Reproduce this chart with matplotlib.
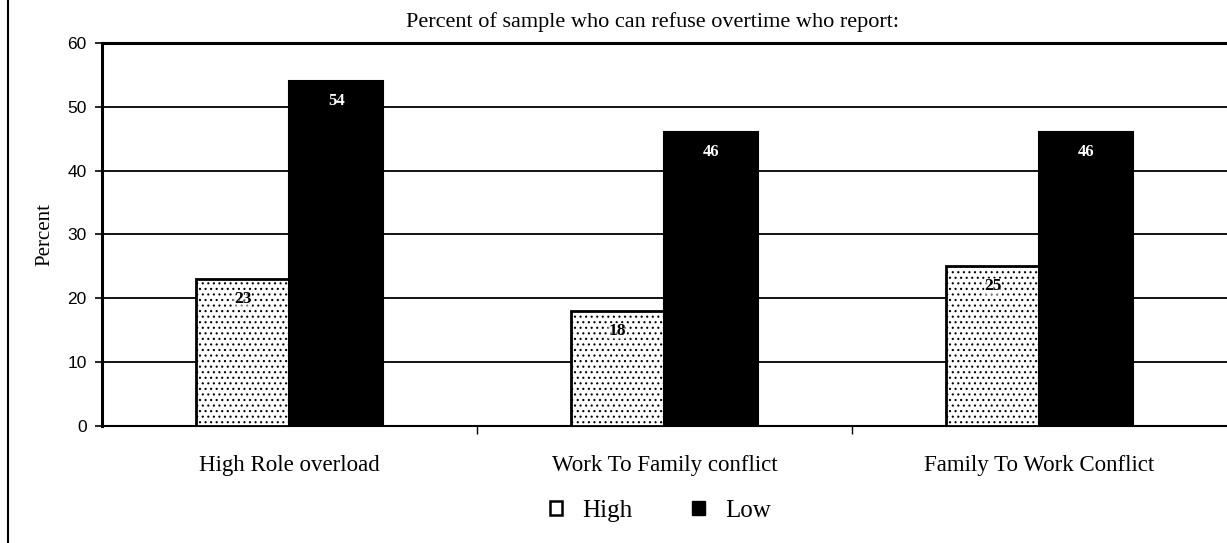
import numpy as np
import matplotlib.pyplot as plt
from matplotlib.patches import Patch
from matplotlib.lines import Line2D

# --- données ---
categories = ['High Role overload', 'Work To Family conflict', 'Family To Work Conflict']
high_vals = [23, 18, 25]
low_vals = [54, 46, 46]
series_names = ['High', 'Low']
title = 'Percent of sample who can refuse overtime who report:'

plt.rcParams['hatch.linewidth'] = 0.8
serif = 'Liberation Serif'
sans = 'Liberation Sans'

fig = plt.figure(figsize=(12.27, 5.43), dpi=100)
ax = fig.add_axes([0.0831, 0.2155, 0.9169, 0.7053])

x = np.arange(len(categories))
w = 0.25

bars_h = ax.bar(x - w / 2, high_vals, w, facecolor='white', edgecolor='black',
                linewidth=2, hatch='...', zorder=3)
bars_l = ax.bar(x + w / 2, low_vals, w, facecolor='black', edgecolor='black',
                linewidth=1.5, zorder=3)

for b, v in zip(bars_h, high_vals):
    ax.text(b.get_x() + b.get_width() / 2, v - 3.1, str(v), ha='center', va='center',
            family=serif, fontweight='bold', fontsize=12.5, color='black', zorder=4,
            bbox=dict(facecolor='white', edgecolor='none', pad=0.3, alpha=0.5))
for b, v in zip(bars_l, low_vals):
    ax.text(b.get_x() + b.get_width() / 2, v - 3.1, str(v), ha='center', va='center',
            family=serif, fontweight='bold', fontsize=12, color='white', zorder=4)

ax.set_xlim(-0.5, 2.5)
ax.set_ylim(0, 60)
ax.set_yticks(range(0, 61, 10))
ax.yaxis.grid(True, color='black', linewidth=1.3, zorder=0)
ax.set_axisbelow(True)

ax.set_xticks(x)
ax.set_xticklabels(categories, family=serif, fontsize=16.5)
ax.set_xticks([0.5, 1.5], minor=True)
ax.tick_params(axis='x', which='major', length=0, pad=21)
ax.tick_params(axis='x', which='minor', length=6, width=1, direction='out')
ax.tick_params(axis='y', length=5, width=1.2, direction='out', labelsize=12.5, pad=6)
for lab in ax.get_yticklabels():
    lab.set_family(sans)

ax.set_ylabel('Percent', family=serif, fontsize=15, labelpad=9)

for side in ['left', 'top']:
    ax.spines[side].set_linewidth(2.2)
ax.spines['bottom'].set_linewidth(1.5)
ax.spines['right'].set_visible(False)

fig.text(0.532, 0.96, title, ha='center', va='center', family=serif, fontsize=16)

handles = [Patch(facecolor='white', edgecolor='black', linewidth=1.8),
           Patch(facecolor='black', edgecolor='black')]
fig.legend(handles, series_names, loc='center', bbox_to_anchor=(0.538, 0.059),
           ncol=2, frameon=False, prop={'family': serif, 'size': 18},
           handlelength=0.5, handleheight=0.5, columnspacing=2.4, handletextpad=0.8)

# bord gauche de la page scannée
fig.add_artist(Line2D([0.0067, 0.0067], [0, 1], color='black', linewidth=1.5,
                      transform=fig.transFigure))

fig.savefig('out.png', dpi=100)
